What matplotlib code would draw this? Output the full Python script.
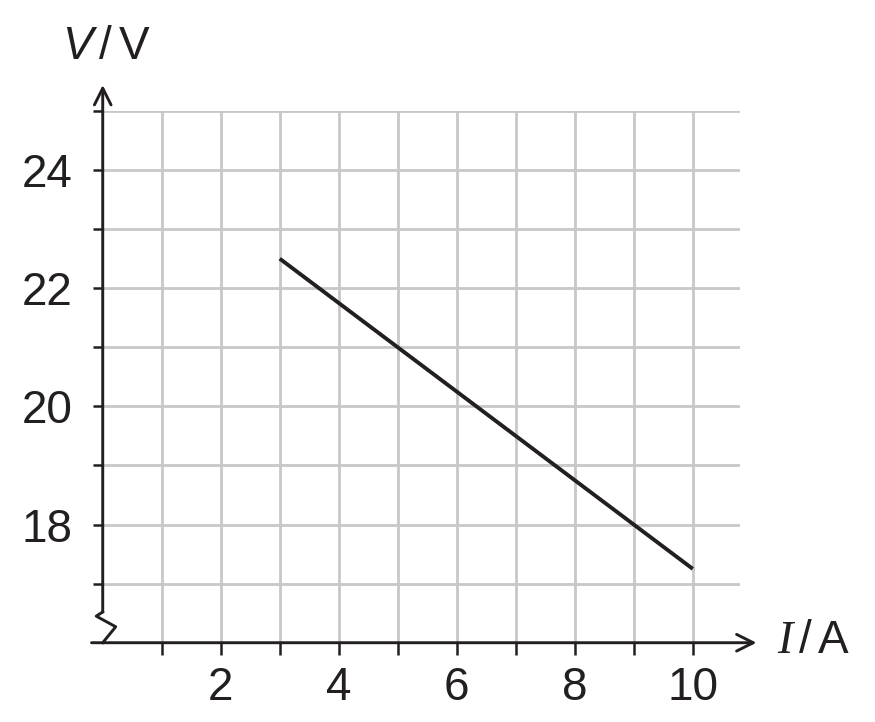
import matplotlib
matplotlib.use("Agg")
import matplotlib.pyplot as plt

# data
current = [3, 10]          # I / A
voltage = [22.5, 17.25]    # V / V

x_ticks = list(range(1, 11))
x_labels = ["", "2", "", "4", "", "6", "", "8", "", "10"]
y_ticks = list(range(17, 26))
y_labels = ["", "18", "", "20", "", "22", "", "24", ""]

ink = "#231f20"
grid_col = "#c8c8c8"

plt.rcParams["font.family"] = ["Liberation Sans", "DejaVu Sans"]
plt.rcParams["mathtext.fontset"] = "custom"
plt.rcParams["mathtext.rm"] = "Liberation Sans"
plt.rcParams["mathtext.it"] = "Liberation Sans:italic"
plt.rcParams["mathtext.sf"] = "Liberation Serif:italic"

fig = plt.figure(figsize=(8.75, 7.22), dpi=100)
ax = fig.add_axes([0.1174, 0.1098, 0.7283, 0.7365])
ax.set_xlim(0, 10.8)
ax.set_ylim(16, 25)

for s in ax.spines.values():
    s.set_visible(False)

# grid
for xv in x_ticks:
    ax.plot([xv, xv], [16, 25], color=grid_col, lw=2.0, zorder=1)
for yv in y_ticks:
    ax.plot([0, 10.8], [yv, yv], color=grid_col, lw=2.0, zorder=1)

# ticks
ax.set_xticks(x_ticks)
ax.set_xticklabels(x_labels)
ax.set_yticks(y_ticks)
ax.set_yticklabels(y_labels)
ax.tick_params(axis="x", direction="out", length=8.5, width=1.8, color=ink,
               labelsize=33, labelcolor=ink, pad=8)
ax.tick_params(axis="y", direction="out", length=7.5, width=1.8, color=ink,
               labelsize=33, labelcolor=ink, pad=14)

# axes with arrows
ax.annotate("", xy=(11.08, 16), xytext=(-0.19, 16),
            arrowprops=dict(arrowstyle="->", lw=2.1, color=ink, mutation_scale=30,
                            shrinkA=0, shrinkB=0), annotation_clip=False)
ax.annotate("", xy=(0, 25.44), xytext=(0, 16.52),
            arrowprops=dict(arrowstyle="->", lw=2.1, color=ink, mutation_scale=30,
                            shrinkA=0, shrinkB=0), annotation_clip=False)
# axis break
ax.plot([0, -0.11, 0.22, 0], [16.52, 16.45, 16.27, 16.0], color=ink, lw=2.1,
        clip_on=False, zorder=3)

# the line
ax.plot(current, voltage, color=ink, lw=2.8, solid_capstyle="butt", zorder=4)

# axis titles
ax.text(-0.69, 26.08, r"$V\,$/$\,$V", fontsize=33, color=ink, ha="left", va="center")
ax.text(11.42, 16.03, r"$\mathsf{I}\,$/$\,$A", fontsize=33, color=ink, ha="left", va="center")

fig.savefig("out.png", dpi=100)
